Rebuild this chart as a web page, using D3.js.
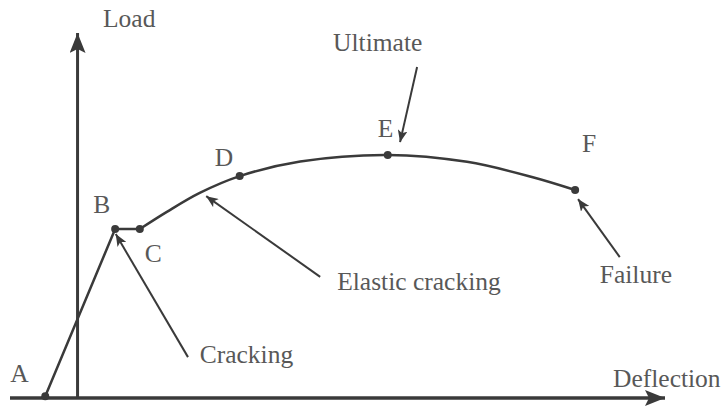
<!DOCTYPE html>
<html>
<head>
<meta charset="utf-8">
<script src="https://cdn.jsdelivr.net/npm/d3@7"></script>
<style>
  body { margin: 0; background: #fff; }
</style>
</head>
<body>
<div id="chart"></div>
<script>
// key points of the load-deflection curve (arbitrary units)
const pointNames = ["A", "B", "C", "D", "E", "F"];
const pointDefl = [-5.5, 6.4, 10.6, 27.6, 52.8, 84.7];
const pointLoad = [0.5, 46.3, 46.3, 60.8, 66.6, 57.0];

// smooth part of the curve, C -> F
const curveDefl = [10.6, 15.2, 20.8, 27.6, 37.9, 52.8, 66.3, 77.5, 84.7];
const curveLoad = [46.3, 51.0, 56.2, 60.8, 64.8, 66.6, 64.7, 60.5, 57.0];

// annotations: label, where the arrow starts, where it points
const noteText = ["Cracking", "Elastic cracking", "Ultimate", "Failure"];
const noteFrom = [[18.8, 11.2], [41.3, 33.2], [57.8, 90.7], [92.3, 38.6]];
const noteTo = [[6.5, 44.9], [21.9, 55.3], [54.9, 70.1], [85.2, 54.5]];
const noteLabelAt = [[20.8, 9.6], [44.2, 29.6], [43.5, 95.1], [88.9, 31.5]];

// pixel offsets of the point letters from their dots
const letterOffset = [[-35, -14], [-22, -16], [5, 33], [-25, -10], [-10, -18], [7, -38]];

const width = 726, height = 413;
const serif = '"Liberation Serif", "Times New Roman", serif';
const ink = "#3a3a3a", textInk = "#585858";

const svg = d3.select("#chart").append("svg")
  .attr("width", width)
  .attr("height", height);

const x = d3.scaleLinear().domain([-11.5, 100]).range([10, 665]);
const y = d3.scaleLinear().domain([0, 100]).range([398, 33]);

function label(sel) {
  sel.style("font-family", serif)
    .style("font-size", "25.5px")
    .attr("fill", textInk);
}

// arrowheads
const defs = svg.append("defs");
defs.append("marker")
  .attr("id", "head")
  .attr("viewBox", "0 0 12 10")
  .attr("refX", 12).attr("refY", 5)
  .attr("markerWidth", 12).attr("markerHeight", 10)
  .attr("markerUnits", "userSpaceOnUse")
  .attr("orient", "auto")
  .append("path")
  .attr("d", "M0,0 L12,5 L0,10 L3,5 Z")
  .attr("fill", ink);

defs.append("marker")
  .attr("id", "axisHead")
  .attr("viewBox", "0 0 20 16")
  .attr("refX", 20).attr("refY", 8)
  .attr("markerWidth", 20).attr("markerHeight", 16)
  .attr("markerUnits", "userSpaceOnUse")
  .attr("orient", "auto")
  .append("path")
  .attr("d", "M0,0 L20,8 L0,16 L4,8 Z")
  .attr("fill", ink);

// axes
svg.append("line")
  .attr("x1", x(-11.5)).attr("y1", y(0))
  .attr("x2", x(100)).attr("y2", y(0))
  .attr("stroke", ink).attr("stroke-width", 3.5)
  .attr("marker-end", "url(#axisHead)");

svg.append("line")
  .attr("x1", x(0)).attr("y1", y(0))
  .attr("x2", x(0)).attr("y2", y(100))
  .attr("stroke", ink).attr("stroke-width", 3)
  .attr("marker-end", "url(#axisHead)");

svg.append("text")
  .attr("x", 103).attr("y", 27)
  .call(label)
  .text("Load");

svg.append("text")
  .attr("x", 613).attr("y", 387)
  .call(label)
  .text("Deflection");

// A -> B -> C straight segments
const straight = d3.line()
  .x(i => x(pointDefl[i]))
  .y(i => y(pointLoad[i]));

svg.append("path")
  .attr("d", straight([0, 1, 2]))
  .attr("fill", "none")
  .attr("stroke", ink)
  .attr("stroke-width", 2.5);

// C -> F smooth curve
const smooth = d3.line()
  .x(i => x(curveDefl[i]))
  .y(i => y(curveLoad[i]))
  .curve(d3.curveCatmullRom);

svg.append("path")
  .attr("d", smooth(d3.range(curveDefl.length)))
  .attr("fill", "none")
  .attr("stroke", ink)
  .attr("stroke-width", 2.5);

// dots and letters
svg.selectAll("circle.pt")
  .data(pointNames)
  .enter().append("circle")
  .attr("class", "pt")
  .attr("cx", (d, i) => x(pointDefl[i]))
  .attr("cy", (d, i) => y(pointLoad[i]))
  .attr("r", 4)
  .attr("fill", ink);

svg.selectAll("text.letter")
  .data(pointNames)
  .enter().append("text")
  .attr("class", "letter")
  .attr("x", (d, i) => x(pointDefl[i]) + letterOffset[i][0])
  .attr("y", (d, i) => y(pointLoad[i]) + letterOffset[i][1])
  .call(label)
  .text(d => d);

// annotation arrows
svg.selectAll("line.note")
  .data(noteText)
  .enter().append("line")
  .attr("class", "note")
  .attr("x1", (d, i) => x(noteFrom[i][0]))
  .attr("y1", (d, i) => y(noteFrom[i][1]))
  .attr("x2", (d, i) => x(noteTo[i][0]))
  .attr("y2", (d, i) => y(noteTo[i][1]))
  .attr("stroke", ink)
  .attr("stroke-width", 2)
  .attr("marker-end", "url(#head)");

svg.selectAll("text.note")
  .data(noteText)
  .enter().append("text")
  .attr("class", "note")
  .attr("x", (d, i) => x(noteLabelAt[i][0]))
  .attr("y", (d, i) => y(noteLabelAt[i][1]))
  .call(label)
  .text(d => d);
</script>
</body>
</html>
